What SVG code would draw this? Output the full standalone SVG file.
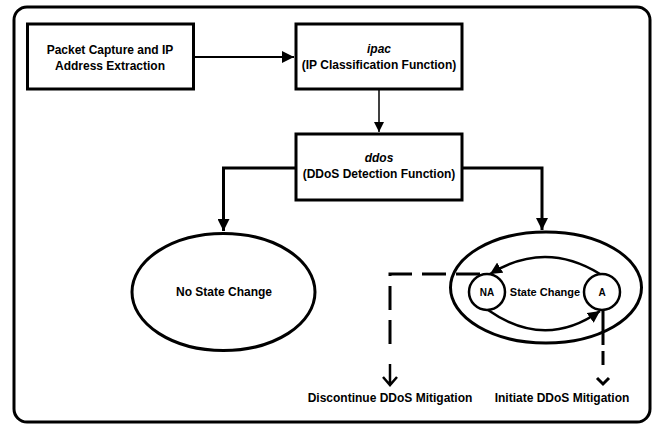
<svg xmlns="http://www.w3.org/2000/svg" width="659" height="426" viewBox="0 0 659 426">
<defs>
<style>
.box{fill:#fff;stroke:#000;stroke-width:3}
.ell{fill:#fff;stroke:#000;stroke-width:3}
.t{font-family:"Liberation Sans",Arial,sans-serif;font-weight:bold;font-size:12px;fill:#000;text-anchor:middle}
.it{font-style:italic}
.ln{fill:none;stroke:#000}
</style>
<marker id="ah" viewBox="0 0 10 10" refX="10" refY="5" markerWidth="12" markerHeight="12" markerUnits="userSpaceOnUse" orient="auto">
<path d="M0,0 L10,5 L0,10 Z" fill="#000"/>
</marker>
<marker id="ahs" viewBox="0 0 10 10" refX="10" refY="5" markerWidth="10" markerHeight="10" markerUnits="userSpaceOnUse" orient="auto">
<path d="M0,0 L10,5 L0,10 Z" fill="#000"/>
</marker>
</defs>
<rect x="14" y="7" width="636" height="415" rx="13" fill="#fff" stroke="#000" stroke-width="3"/>
<g id="connectors">
<path class="ln" d="M194,57 H294" stroke-width="2" marker-end="url(#ah)"/>
<path class="ln" d="M379,89 V132" stroke-width="1.5" marker-end="url(#ahs)"/>
<path class="ln" d="M296,168 H223.5 V231" stroke-width="3" marker-end="url(#ah)"/>
<path class="ln" d="M462,168 H542 V230" stroke-width="3" marker-end="url(#ah)"/>
<path class="ln" d="M600,274 Q545,240 490,274" stroke-width="2.5" marker-end="url(#ah)"/>
<path class="ln" d="M488,310 Q545,350 600,311" stroke-width="2.5" marker-end="url(#ah)"/>
<path class="ln" d="M480,274 H390 V352" stroke-width="3" stroke-dasharray="24 10"/>
<path class="ln" d="M390,364 V384 M383,377 L390,385 L397,377" stroke-width="2.5"/>
<path class="ln" d="M603,310 V345 M603,351 V365" stroke-width="3"/>
<path class="ln" d="M597,378 L603,384 L609,378" stroke-width="3"/>
</g>
<g id="capture">
<rect class="box" x="27.5" y="24" width="166" height="65"/>
<text class="t" x="110" y="54">Packet Capture and IP</text>
<text class="t" x="110" y="70">Address Extraction</text>
</g>
<g id="ipac">
<rect class="box" x="296" y="24" width="166" height="65"/>
<text class="t it" x="379" y="53">ipac</text>
<text class="t" x="379" y="69">(IP Classification Function)</text>
</g>
<g id="ddos">
<rect class="box" x="296" y="134" width="166" height="66"/>
<text class="t it" x="379" y="162">ddos</text>
<text class="t" x="379" y="178">(DDoS Detection Function)</text>
</g>
<g id="nochange">
<ellipse class="ell" cx="223.5" cy="292" rx="91.5" ry="58.5"/>
<text class="t" x="224" y="296">No State Change</text>
</g>
<g id="statechange">
<ellipse class="ell" cx="546" cy="287.5" rx="95.5" ry="55.5" style="fill:none"/>
<text class="t" x="545" y="296" style="font-size:11px">State Change</text>
</g>
<g id="na">
<circle cx="487" cy="292" r="18" fill="#fff" stroke="#000" stroke-width="2.5"/>
<text class="t" x="487" y="296" style="font-size:10px">NA</text>
</g>
<g id="a">
<circle cx="602" cy="292" r="18" fill="#fff" stroke="#000" stroke-width="2.5"/>
<text class="t" x="602" y="296" style="font-size:10px">A</text>
</g>
<g id="discontinue">
<text class="t" x="390" y="402">Discontinue DDoS Mitigation</text>
</g>
<g id="initiate">
<text class="t" x="562" y="402">Initiate DDoS Mitigation</text>
</g>
</svg>
